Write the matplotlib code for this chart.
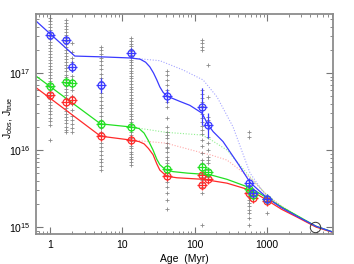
import numpy as np
import matplotlib
matplotlib.use("Agg")
import matplotlib.pyplot as plt
from matplotlib.ticker import LogLocator, FixedLocator, NullFormatter

# ---------------- data ----------------
# gray individual stars: (age in Myr, list of log10 J)
gray_ages = [1.0, 1.66, 2.0, 5.1, 13.0, 41.0, 126.0, 153.0, 560.0, 1000.0]
gray_1 = [17.71, 17.68, 17.64, 17.60, 17.56, 17.52, 17.48, 17.44, 17.40, 17.36, 17.33, 17.29,
          17.25, 17.21, 17.17, 17.13, 17.09, 17.05, 17.01, 16.97, 16.94, 16.90, 16.86, 16.82,
          16.78, 16.74, 16.70, 16.66, 16.62, 16.58, 16.55, 16.51, 16.47, 16.42, 16.38, 16.33, 16.13]
gray_166 = [17.69, 17.65, 17.61, 17.57, 17.53, 17.49, 17.46, 17.42, 17.38, 17.34, 17.30, 17.26,
            17.22, 17.18, 17.14, 17.10, 17.06, 17.02, 16.98, 16.95, 16.91, 16.87, 16.83, 16.79,
            16.75, 16.71, 16.67, 16.63, 16.59, 16.55, 16.51, 16.47, 16.43, 16.39, 16.35, 16.30,
            16.26, 16.23]
gray_2 = [17.39, 17.27, 17.19, 17.14, 17.04, 16.96, 16.91, 16.83, 16.78, 16.70, 16.60, 16.52,
          16.44, 16.39, 16.34, 16.29, 16.23]
gray_5 = [17.34, 17.30, 17.25, 17.20, 17.15, 17.10, 17.05, 16.99, 16.94, 16.89, 16.79, 16.74,
          16.69, 16.64, 16.59, 16.54, 16.49, 16.44, 16.39, 16.34, 16.29, 16.24, 16.19, 16.14,
          16.09, 16.04, 15.99, 15.94, 15.89, 15.84, 15.79, 15.74]
gray_13 = [17.45, 17.41, 17.38, 17.35, 17.31, 17.28, 17.24, 17.21, 17.17, 17.14, 17.10, 17.07,
           17.03, 17.00, 16.96, 16.93, 16.89, 16.86, 16.82, 16.79, 16.75, 16.72, 16.68, 16.65,
           16.61, 16.58, 16.54, 16.51, 16.47, 16.44, 16.40, 16.37, 16.33, 16.30, 16.26, 16.23,
           16.19, 16.16, 16.12, 16.09, 16.05, 16.02, 15.98, 15.95, 15.91, 15.88, 15.84, 15.81]
gray_41 = [17.02, 16.97, 16.91, 16.84, 16.78, 16.63, 16.56, 16.41, 16.30, 16.24, 16.19, 16.15,
           16.09, 16.04, 16.02, 15.98, 15.91, 15.87, 15.83, 15.74, 15.68, 15.63, 15.59, 15.52,
           15.44, 15.35, 15.24]
gray_126 = [17.43, 17.39, 17.34, 17.30, 16.78, 16.73, 16.68, 16.62, 16.57, 16.52, 16.47, 16.42,
            16.36, 16.31, 16.26, 16.21, 16.13, 16.05, 15.96, 15.87, 15.83, 15.78, 15.74, 15.70,
            15.65, 15.61, 15.57, 15.52, 15.44, 15.03]
gray_153 = [17.10, 16.69, 16.43, 16.39, 16.17, 16.09, 16.00, 15.91, 15.87, 15.83, 15.74, 15.65, 15.61]
gray_560 = [16.23, 16.17, 15.55, 15.51, 15.47, 15.43, 15.39, 15.35, 15.31, 15.27, 15.22, 15.18,
            15.12, 15.03]
gray_1000 = [15.18]
gray_values = [gray_1, gray_166, gray_2, gray_5, gray_13, gray_41, gray_126, gray_153,
               gray_560, gray_1000]

# cluster medians (log10 J)
cl_ages = [1.0, 1.66, 2.0, 5.1, 13.0, 41.0, 126.0, 153.0, 560.0, 645.0, 1000.0]
blue_log = [17.49, 17.43, 17.08, 16.84, 17.26, 16.70, 16.56, 16.32, 15.57, 15.44, 15.36]
blue_err = [0.04, 0.04, 0.07, 0.10, 0.06, 0.09, 0.24, 0.16, 0.04, 0.03, 0.03]
green_log = [16.83, 16.88, 16.87, 16.34, 16.30, 15.75, 15.78, 15.71, 15.49, 15.42, 15.36]
red_log = [16.71, 16.62, 16.65, 16.18, 16.13, 15.66, 15.68, 15.62, 15.44, 15.38, 15.34]
red_extra_age = [126.0]
red_extra_log = [15.55]
sun_age = [4570.0]
sun_log = [15.0]

# model curves (age in Myr, log10 J)
blue_solid_age = [0.64, 2.2, 5, 13, 17.6, 21, 24, 27, 30, 33, 36.6, 41.5, 63, 86, 126, 153,
                  180, 247, 400, 584, 1000, 1600, 2600, 4780, 8200]
blue_solid_log = [17.675, 17.22, 17.21, 17.195, 17.18, 17.14, 17.08, 17.00, 16.91, 16.82, 16.75,
                  16.70, 16.63, 16.58, 16.48, 16.33, 16.24, 16.11, 15.82, 15.58, 15.38, 15.25,
                  15.14, 15.01, 14.935]
blue_dot_age = [13, 33, 69, 131, 204, 340, 584, 1000, 1600, 2600, 4780, 8200]
blue_dot_log = [17.195, 17.16, 17.04, 16.91, 16.69, 16.30, 15.70, 15.39, 15.25, 15.14, 15.01, 14.935]

green_solid_age = [0.64, 5, 13, 17, 20, 23, 26.6, 30, 33, 39, 50, 80, 163, 280, 584, 1000, 1600,
                   2600, 4780, 8200]
green_solid_log = [16.96, 16.34, 16.30, 16.28, 16.22, 16.12, 16.00, 15.88, 15.81, 15.75, 15.72,
                   15.70, 15.68, 15.62, 15.51, 15.38, 15.26, 15.15, 15.01, 14.935]
green_dot_age = [13, 40, 126, 163, 280, 584, 1000, 1600, 2600, 4780, 8200]
green_dot_log = [16.30, 16.23, 16.195, 16.14, 16.00, 15.65, 15.415, 15.27, 15.15, 15.01, 14.935]

red_solid_age = [0.64, 5, 13, 17, 20, 23, 26.6, 30, 33, 41, 57, 131, 280, 584, 1000, 1600,
                 2600, 4780, 8200]
red_solid_log = [16.81, 16.18, 16.13, 16.11, 16.08, 16.02, 15.94, 15.82, 15.74, 15.66, 15.64,
                 15.62, 15.57, 15.48, 15.35, 15.23, 15.13, 15.00, 14.93]
red_dot_age = [13, 40, 131, 163, 280, 584, 1000, 1600, 2600, 4780, 8200]
red_dot_log = [16.13, 16.09, 15.96, 15.94, 15.87, 15.64, 15.415, 15.27, 15.14, 15.00, 14.93]

x_ticks = [1, 10, 100, 1000]
x_ticklabels = ["1", "10", "100", "1000"]
y_ticks = [1e15, 1e16, 1e17]
y_ticklabels = [r"$10^{15}$", r"$10^{16}$", r"$10^{17}$"]

# ---------------- plot ----------------
plt.rcParams['font.family'] = ['Liberation Sans', 'DejaVu Sans']
plt.rcParams['mathtext.fontset'] = 'custom'
plt.rcParams['mathtext.rm'] = 'Liberation Sans'
plt.rcParams['mathtext.it'] = 'Liberation Sans:italic'

fig = plt.figure(figsize=(3.54, 2.64), dpi=100)
ax = fig.add_axes([0.1017, 0.1136, 0.839, 0.8334])
ax.set_xscale('log')
ax.set_yscale('log')

BLUE = '#3a3aff'
GREEN = '#22e022'
RED = '#ff2a2a'
GRAY = '#8a8a8a'

# gray crosses
for a, vals in zip(gray_ages, gray_values):
    v = np.array(vals)
    ax.plot(np.full(len(v), a), 10 ** v, linestyle='none', marker='+', ms=3.2,
            mew=0.6, color=GRAY, zorder=1)

def lines(age, logv, color, ls, lw, alpha):
    ax.plot(age, 10 ** np.array(logv), color=color, ls=ls, lw=lw, alpha=alpha, zorder=2)

lines(blue_dot_age, blue_dot_log, BLUE, (0, (1, 1.5)), 0.8, 0.45)
lines(green_dot_age, green_dot_log, GREEN, (0, (1, 1.5)), 0.8, 0.5)
lines(red_dot_age, red_dot_log, RED, (0, (1, 1.5)), 0.8, 0.4)
lines(red_solid_age, red_solid_log, RED, '-', 0.9, 1)
lines(green_solid_age, green_solid_log, GREEN, '-', 0.9, 1)
lines(blue_solid_age, blue_solid_log, BLUE, '-', 0.9, 1)

def points(age, logv, color, err=None):
    y = 10 ** np.array(logv)
    if err is not None:
        e = np.array(err)
        lo = y - 10 ** (np.array(logv) - e)
        hi = 10 ** (np.array(logv) + e) - y
        ax.errorbar(age, y, yerr=[lo, hi], fmt='none', ecolor=color, elinewidth=0.9,
                    capsize=0, zorder=3)
    ax.plot(age, y, linestyle='none', marker='o', ms=5.0, mfc='none', mec=color,
            mew=0.9, zorder=4)
    ax.plot(age, y, linestyle='none', marker='+', ms=6.5, mec=color, mew=0.9, zorder=4)

points(cl_ages, red_log, RED)
points(red_extra_age, red_extra_log, RED)
points(cl_ages, green_log, GREEN)
points(cl_ages, blue_log, BLUE, blue_err)

ax.plot(sun_age, 10 ** np.array(sun_log), linestyle='none', marker='o', ms=7.5,
        mfc='none', mec='#333333', mew=0.7, zorder=4)

ax.set_xlim(0.64, 8200)
ax.set_ylim(10 ** 14.91, 10 ** 17.766)

ax.xaxis.set_major_locator(FixedLocator(x_ticks))
ax.set_xticklabels(x_ticklabels)
ax.xaxis.set_minor_locator(LogLocator(base=10, subs=np.arange(2, 10)))
ax.xaxis.set_minor_formatter(NullFormatter())
ax.yaxis.set_major_locator(FixedLocator(y_ticks))
ax.set_yticklabels(y_ticklabels)
ax.yaxis.set_minor_locator(LogLocator(base=10, subs=np.arange(2, 10)))
ax.yaxis.set_minor_formatter(NullFormatter())

ax.tick_params(which='both', direction='in', top=True, right=True, colors='#777777',
               labelcolor='black', labelsize=7.5)
ax.tick_params(which='major', length=5, width=0.8, pad=4)
ax.tick_params(which='minor', length=2.5, width=0.6)
for s in ax.spines.values():
    s.set_color('#8c8c8c')
    s.set_linewidth(1.3)

ax.set_xlabel('Age  (Myr)', fontsize=7.5, labelpad=3)
ax.set_ylabel(r'$\mathrm{J_{obs}}$, $\mathrm{J_{true}}$', fontsize=7.5)
ax.yaxis.set_label_coords(-0.07, 0.53)

fig.savefig('out.png', dpi=100)
